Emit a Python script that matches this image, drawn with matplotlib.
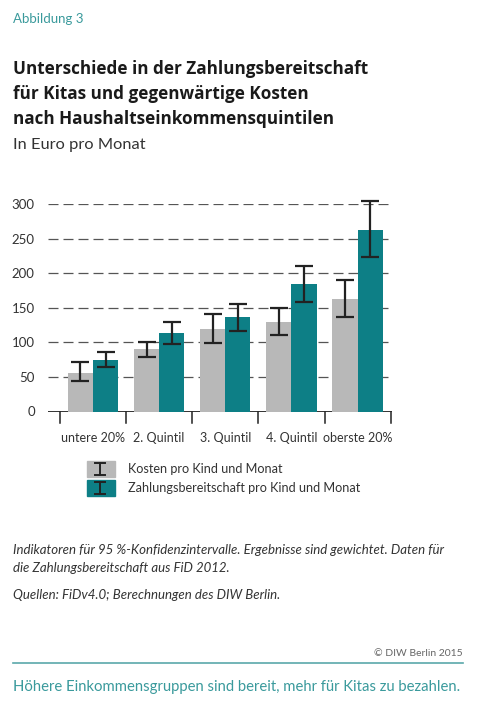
import numpy as np
import matplotlib
matplotlib.use("Agg")
import matplotlib.pyplot as plt
from matplotlib.patches import Rectangle

plt.rcParams['font.family'] = ['Lato', 'DejaVu Sans']

# data
categories = ['untere 20%', '2. Quintil', '3. Quintil', '4. Quintil', 'oberste 20%']
kosten = [56, 90, 119, 130, 163]
kosten_lo = [44, 79, 99, 111, 136]
kosten_hi = [71, 101, 141, 149, 190]
zahl = [75, 114, 136, 185, 263]
zahl_lo = [65, 98, 117, 159, 223]
zahl_hi = [86, 130, 155, 211, 304]
yticks = [0, 50, 100, 150, 200, 250, 300]

grey = '#b8b8b8'
teal = '#0d7f86'
teal_txt = '#3a9a9c'
dark = '#222222'

W, H = 504, 704
fig = plt.figure(figsize=(W / 100, H / 100), dpi=100)


def fbox(x0, y0, x1, y1):
    # pixel box (top-left origin) -> figure fraction
    return [x0 / W, 1 - y1 / H, (x1 - x0) / W, (y1 - y0) / H]


# overlay for texts and legend, in pixels
ov = fig.add_axes([0, 0, 1, 1], zorder=0)
ov.set_xlim(0, W)
ov.set_ylim(H, 0)
ov.axis('off')

ax = fig.add_axes(fbox(48, 204, 392, 411.5), zorder=1)
ax.patch.set_alpha(0)

x = np.arange(len(categories))
w = 0.38
off = 0.19
ax.bar(x - off, kosten, w, color=grey, zorder=2)
ax.bar(x + off, zahl, w, color=teal, zorder=2)

err_k = [np.array(kosten) - np.array(kosten_lo), np.array(kosten_hi) - np.array(kosten)]
err_z = [np.array(zahl) - np.array(zahl_lo), np.array(zahl_hi) - np.array(zahl)]
ax.errorbar(x - off, kosten, yerr=err_k, fmt='none', ecolor=dark, elinewidth=1.6,
            capsize=6.5, capthick=1.6, zorder=3, clip_on=False)
ax.errorbar(x + off, zahl, yerr=err_z, fmt='none', ecolor=dark, elinewidth=1.6,
            capsize=6.5, capthick=1.6, zorder=3, clip_on=False)

ax.set_xlim(-0.68, 4.52)
ax.set_ylim(0, 300)
for v in yticks[1:]:
    ax.axhline(v, color='#555555', lw=0.9, ls=(0, (8, 4)), zorder=1)
ax.axhline(0, color=dark, lw=1.3, zorder=1.5)

# group separators below the zero line
for b in np.arange(-0.5, len(categories)):
    ax.plot([b, b], [0, -0.055], color=dark, lw=1.1,
            transform=ax.get_xaxis_transform(), clip_on=False)

for s in ax.spines.values():
    s.set_visible(False)
ax.set_yticks(yticks)
ax.set_yticklabels([str(v) for v in yticks])
ax.tick_params(axis='y', length=0, pad=9.5, labelsize=9.5, labelcolor='#333333')
ax.set_xticks(x)
ax.set_xticklabels(categories)
ax.tick_params(axis='x', length=0, pad=15, labelsize=9, labelcolor='#333333')

# header
ov.text(13, 19, 'Abbildung 3', fontsize=9.5, color=teal_txt, va='center')
title = ['Unterschiede in der Zahlungsbereitschaft',
         'für Kitas und gegenwärtige Kosten',
         'nach Haushaltseinkommensquintilen']
for i, line in enumerate(title):
    ov.text(13, 69 + 25 * i, line, fontsize=12.3, fontweight='bold', color='#1a1a1a',
            va='center', family=['Open Sans', 'DejaVu Sans'])
ov.text(13, 145, 'In Euro pro Monat', fontsize=11.8, color='#333333', va='center')

# legend
leg_items = [('Kosten pro Kind und Monat', grey, 461, 477),
             ('Zahlungsbereitschaft pro Kind und Monat', teal, 480, 496)]
for label, col, y0, y1 in leg_items:
    ov.add_patch(Rectangle((87, y0), 28, y1 - y0, color=col))
    ov.plot([100, 100], [y0 + 2, y1 - 2], color=dark, lw=1.4)
    ov.plot([95, 105], [y0 + 2, y0 + 2], color=dark, lw=1.4)
    ov.plot([95, 105], [y1 - 2, y1 - 2], color=dark, lw=1.4)
    ov.text(128, (y0 + y1) / 2, label, fontsize=9.1, color='#333333', va='center')

# notes
ov.text(13, 550, 'Indikatoren für 95 %-Konfidenzintervalle. Ergebnisse sind gewichtet. Daten für',
        fontsize=9.5, style='italic', color='#333333', va='center')
ov.text(13, 568, 'die Zahlungsbereitschaft aus FiD 2012.',
        fontsize=9.5, style='italic', color='#333333', va='center')
ov.text(13, 595, 'Quellen: FiDv4.0; Berechnungen des DIW Berlin.',
        fontsize=9.5, style='italic', color='#333333', va='center')
ov.text(463, 653, '© DIW Berlin 2015', fontsize=7.5, color='#666666', va='center', ha='right')
ov.plot([13, 463], [663, 663], color='#5aa8aa', lw=1.2)
ov.text(13, 687, 'Höhere Einkommensgruppen sind bereit, mehr für Kitas zu bezahlen.',
        fontsize=10.7, color=teal_txt, va='center')

fig.savefig('out.png', dpi=100)
